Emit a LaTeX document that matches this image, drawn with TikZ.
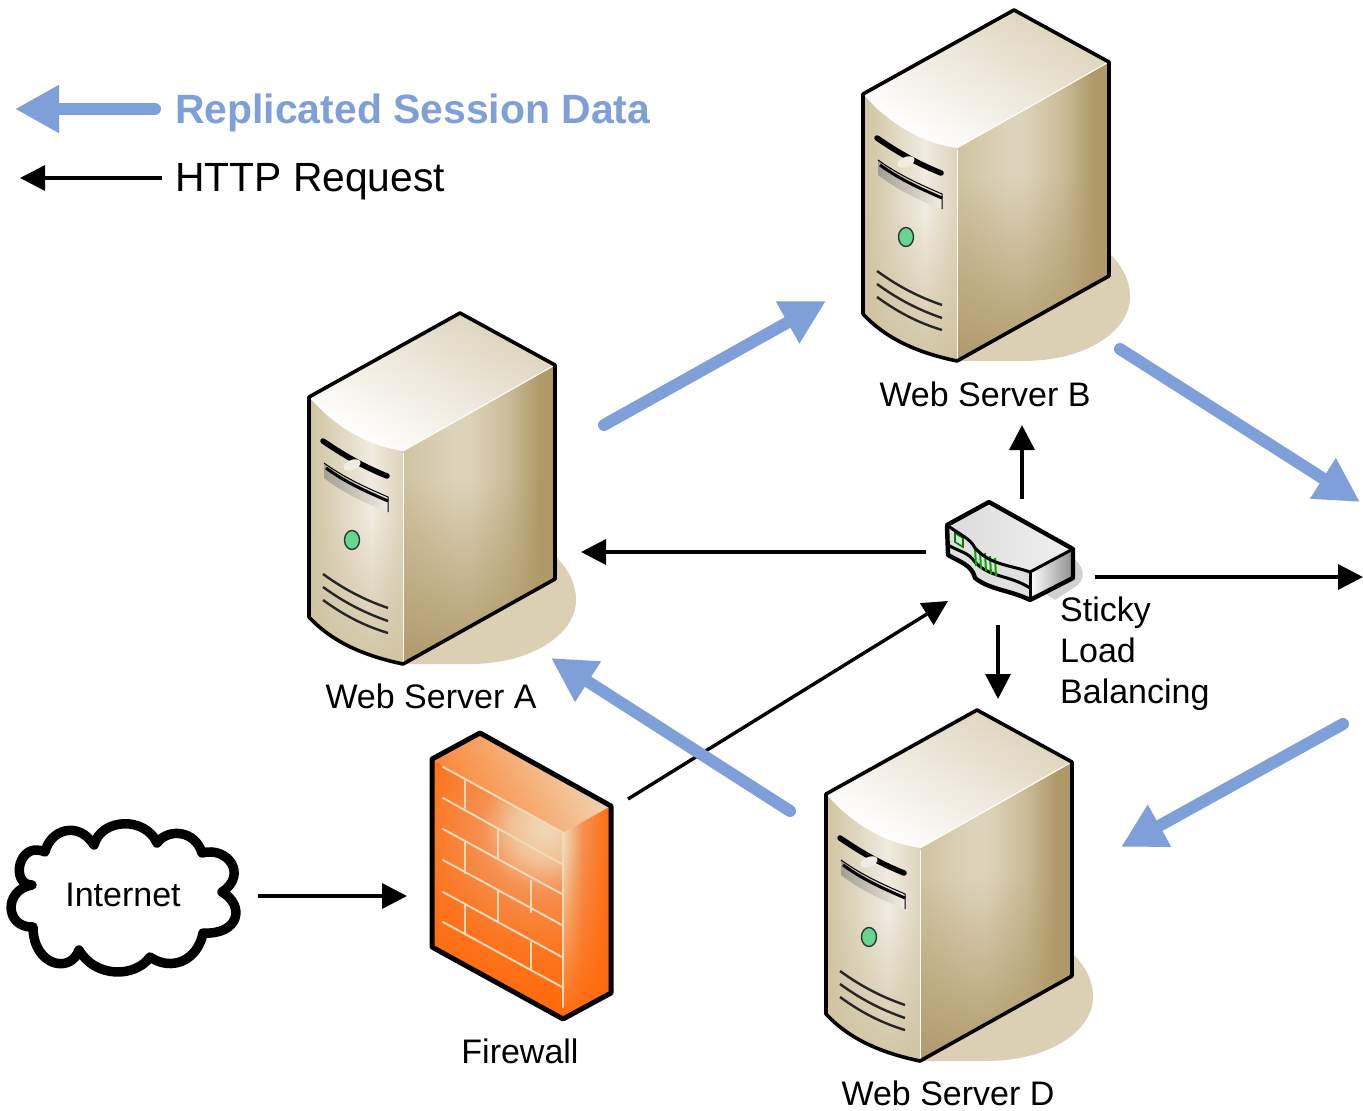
\documentclass[tikz,border=0pt]{standalone}
\usepackage{fontspec}
\setmainfont{Liberation Sans}
\usetikzlibrary{arrows.meta,fadings}
\definecolor{sblue}{HTML}{7F9FD9}
\definecolor{shadowtan}{HTML}{DBD0B3}
\definecolor{tanL}{HTML}{CFC3A0}
\definecolor{tanM}{HTML}{DDD3BA}
\definecolor{tanN}{HTML}{C9BB96}
\definecolor{tanD}{HTML}{AF9969}
\definecolor{fworange}{HTML}{FF6A0C}
\definecolor{fwmid}{HTML}{F59050}
\definecolor{fwlight}{HTML}{EFD9B8}
\pgfdeclarehorizontalshading{srvright}{100bp}{color(0bp)=(tanL); color(25bp)=(tanL); color(42bp)=(tanM); color(47bp)=(tanM); color(60bp)=(tanN); color(70bp)=(tanD); color(100bp)=(tanD)}
\pgfdeclarehorizontalshading{srvfront}{100bp}{color(0bp)=(tanL); color(25bp)=(tanL); color(58bp)=(tanM!45!white); color(75bp)=(tanM); color(100bp)=(tanM)}
\pgfdeclareradialshading{fwrad}{\pgfpoint{0bp}{0bp}}{color(0bp)=(fwlight); color(4bp)=(fwlight!70!fwmid); color(8bp)=(fwmid); color(15bp)=(fworange!70!fwmid); color(22bp)=(fworange); color(50bp)=(fworange)}
\pgfdeclarehorizontalshading{fwright}{100bp}{color(0bp)=(fwlight); color(25bp)=(fwlight); color(45bp)=(fwmid); color(75bp)=(fworange); color(100bp)=(fworange)}
\tikzset{
  x=1pt,y=-1pt,
  outline/.style={draw=black,line width=3.6pt,line join=round},
  httparrow/.style={draw=black,line width=3.4pt,-{Triangle[length=25pt,width=25pt]}},
  blueArrow/.style={draw=sblue,line width=12pt,line cap=round,-{Triangle[length=44pt,width=45pt]}},
  label/.style={font=\fontsize{34}{41}\selectfont,text=black,inner sep=0pt},
  brick/.style={draw=fwlight,line width=2pt,line cap=round},
  vent/.style={draw=black!85,line width=2.4pt},
}
\newcommand{\serverat}[2]{%
\begin{scope}[shift={(#1,#2)}]
  % shadow
  \fill[shadowtan] (403,664) -- (470,664) .. controls (530,664) and (576,635) .. (576,600)
     .. controls (576,580) and (565,565) .. (552,553) -- (500,600) -- cycle;
  % right face
  \begin{scope}
    \clip (403,451) -- (555,365) -- (555,579) -- (403,664) -- cycle;
    \shade[shading=srvright] (403,360) rectangle (555,670);
    \fill[tanD,path fading=north] (403,480) rectangle (555,670);
  \end{scope}
  % top face
  \shade[top color=white,bottom color=tanM,shading angle=150]
    (309,397) -- (460,313) -- (555,365) -- (403,451) .. controls (375,447) and (340,433) .. (309,397) -- cycle;
  % front face
  \begin{scope}
    \clip (309,397) .. controls (340,433) and (375,447) .. (403,451) -- (403,664)
       .. controls (370,657) and (335,645) .. (309,617) -- cycle;
    \shade[shading=srvfront] (309,390) rectangle (403,670);
    \fill[tanL,path fading=north] (309,520) rectangle (403,670);
  \end{scope}
  % drive bay
  \shade[left color=tanM!60!black!75,right color=tanM!40!white] (324,463) .. controls (345,478) and (365,487) .. (388,497)
     -- (388,512) .. controls (365,503) and (345,494) .. (324,478) -- cycle;
  \draw[black,line width=1pt] (324,463) .. controls (345,478) and (365,487) .. (388,497) -- (388,512);
  \draw[black,line width=3pt] (326,468) .. controls (345,482) and (365,491) .. (388,501);
  % slot and handle
  \draw[black,line width=5.5pt,line cap=round] (323,441) .. controls (342,454) and (362,466) .. (387,476);
  \fill[shadowtan!40!white,rotate around={22:(352,465)}] (352,465) ellipse [x radius=9,y radius=5];
  % LED
  \draw[fill=teal!55!green!60!white,draw=black!80,line width=1.4pt] (352,540) ellipse [x radius=7.5,y radius=9.5];
  % vents
  \draw[vent] (323,574) .. controls (345,590) and (365,600) .. (388,608);
  \draw[vent] (323,587) .. controls (345,603) and (365,613) .. (388,621);
  \draw[vent] (323,600) .. controls (345,616) and (365,626) .. (388,633);
  % edges
  \draw[white,line width=1pt] (403,453) -- (403,662);
  \draw[white,line width=1pt] (403,451) -- (553,366);
  \draw[outline] (309,397) -- (460,313) -- (555,365) -- (555,579) -- (403,664)
     .. controls (370,657) and (335,645) .. (309,617) -- cycle;
\end{scope}}
\begin{document}
\begin{tikzpicture}
\useasboundingbox (0,0) rectangle (1363,1111);
\fill[white] (0,0) rectangle (1363,1111);

% connector end points
\coordinate (legBlueS) at (155,109);  \coordinate (legBlueE) at (15,109);
\coordinate (legBlackS) at (162,178); \coordinate (legBlackE) at (20,178);
\coordinate (abS) at (604,425);   \coordinate (abE) at (826,301);
\coordinate (bcS) at (1120,349);  \coordinate (bcE) at (1360,502);
\coordinate (cdS) at (1343,724);  \coordinate (cdE) at (1121,847);
\coordinate (daS) at (790,811);   \coordinate (daE) at (551,658);
\coordinate (lbAS) at (926,552);  \coordinate (lbAE) at (581,552);
\coordinate (lbBS) at (1022,499); \coordinate (lbBE) at (1022,425);
\coordinate (lbCS) at (1095,577); \coordinate (lbCE) at (1363,577);
\coordinate (lbDS) at (998,625);  \coordinate (lbDE) at (998,699);
\coordinate (fwS) at (628,799);   \coordinate (fwE) at (948,601);
\coordinate (inS) at (258,896);   \coordinate (inE) at (407,896);

% servers
\serverat{0}{0}
\serverat{554}{-303}
\serverat{517}{397}

% firewall
\begin{scope}
  \clip (432,759) -- (563,833) -- (563,1019) -- (432,947) -- cycle;
  \shade[shading=fwrad] (545,828) circle (200);
\end{scope}
\shade[top color=fwlight,bottom color=fworange!80!fwlight,shading angle=300]
  (432,759) -- (480,733) -- (611,806) -- (563,833) -- cycle;
\begin{scope}
  \clip (563,833) -- (611,806) -- (611,993) -- (563,1019) -- cycle;
  \shade[shading=fwright] (563,800) rectangle (611,1020);
  \fill[fworange,path fading=north] (563,850) rectangle (611,1020);
\end{scope}
\foreach \a/\b in {767/832,798/864,829/894,860/925,892/957,922/987}
  \draw[brick] (443,\a) -- (562,\b);
\draw[brick] (563,833) -- (563,1007);
\foreach \xx/\a/\b in {465/779/808,498/828/858,465/842/873,531/880/912,498/890/920,465/905/933,531/942/968}
  \draw[brick] (\xx,\a) -- (\xx,\b);
\draw[draw=black,line width=5pt,line join=round] (432,759) -- (480,733) -- (611,806) -- (611,993) -- (563,1019) -- (432,947) -- cycle;

% cloud
\draw[black,line width=9.5pt,line join=round,fill=white]
  (45,852) .. controls (50,830) and (78,820) .. (94,845)
  .. controls (102,817) and (146,817) .. (157,843)
  .. controls (168,828) and (195,830) .. (202,853)
  .. controls (228,846) and (248,875) .. (222,892)
  .. controls (245,905) and (240,935) .. (203,933)
  .. controls (198,960) and (172,972) .. (150,957)
  .. controls (135,978) and (95,978) .. (79,950)
  .. controls (70,975) and (33,965) .. (33,927)
  .. controls (5,928) and (3,890) .. (32,885)
  .. controls (10,885) and (18,840) .. (45,852) -- cycle;

% load balancer
\fill[black!18] (1066,552) .. controls (1085,565) and (1090,580) .. (1070,590) -- (1055,600) -- (1040,590) -- cycle;
\shade[left color=black!14,right color=black!6] (947,525) -- (989,502) -- (1073,549) -- (1030,572) .. controls (1010,565) and (990,565) .. (975,548) .. controls (970,538) and (960,535) .. (947,525) -- cycle;
\shade[left color=white,right color=black!45] (1030,572) -- (1073,549) -- (1073,578) -- (1030,600) -- cycle;
\fill[black!12] (947,525) .. controls (960,535) and (970,538) .. (975,548) .. controls (990,565) and (1010,565) .. (1030,572) -- (1030,600) .. controls (1010,590) and (990,590) .. (975,578) .. controls (972,565) and (960,562) .. (948,555) -- cycle;
\draw[black,line width=3pt] (948,545) .. controls (960,552) and (968,552) .. (975,562) .. controls (990,578) and (1010,575) .. (1030,588);
\draw[black,line width=3pt] (1030,572) -- (1030,600);
\draw[fill=green!25!black!15,draw=green!50!black,line width=1.6pt] (955,533) -- (963,538) -- (963,547) -- (955,542) -- cycle;
\foreach \xx/\a in {975/548,980/551,985/553,990/556,995/558}
  \draw[green!65!black,line width=2pt] (\xx,\a) -- (\xx+1,\a+18);
\draw[black,line width=4.4pt,line join=round] (947,525) -- (989,502) -- (1073,549) -- (1073,578) -- (1030,600)
  .. controls (1010,590) and (990,590) .. (975,578) .. controls (972,565) and (960,562) .. (948,555) -- cycle;
\draw[black,line width=3pt] (947,525) .. controls (960,535) and (970,538) .. (975,548) .. controls (990,565) and (1010,565) .. (1030,572) -- (1073,549);

% connectors
\draw[blueArrow] (abS) -- (abE);
\draw[blueArrow] (bcS) -- (bcE);
\draw[blueArrow] (cdS) -- (cdE);
\draw[httparrow] (fwS) -- (fwE);
\draw[blueArrow] (daS) -- (daE);
\draw[httparrow] (lbAS) -- (lbAE);
\draw[httparrow] (lbBS) -- (lbBE);
\draw[httparrow] (lbCS) -- (lbCE);
\draw[httparrow] (lbDS) -- (lbDE);
\draw[httparrow] (inS) -- (inE);
\draw[blueArrow] (legBlueS) -- (legBlueE);
\draw[httparrow] (legBlackS) -- (legBlackE);

% labels
\node[label,anchor=west,text=sblue,font=\fontsize{40.9}{46}\selectfont\bfseries] (legBlue) at (175,113) {Replicated Session Data};
\node[label,anchor=west,font=\fontsize{40.8}{46}\selectfont] (legBlack) at (175,182) {HTTP Request};
\node[label] (labA) at (431,696) {Web Server A};
\node[label] (labB) at (985,394) {Web Server B};
\node[label] (labD) at (948,1093) {Web Server D};
\node[label] (labFw) at (520,1051) {Firewall};
\node[label] (labNet) at (123,895) {Internet};
\node[label,anchor=north west,align=left] (labLb) at (1060,597) {Sticky\\Load\\Balancing};
\end{tikzpicture}
\end{document}
